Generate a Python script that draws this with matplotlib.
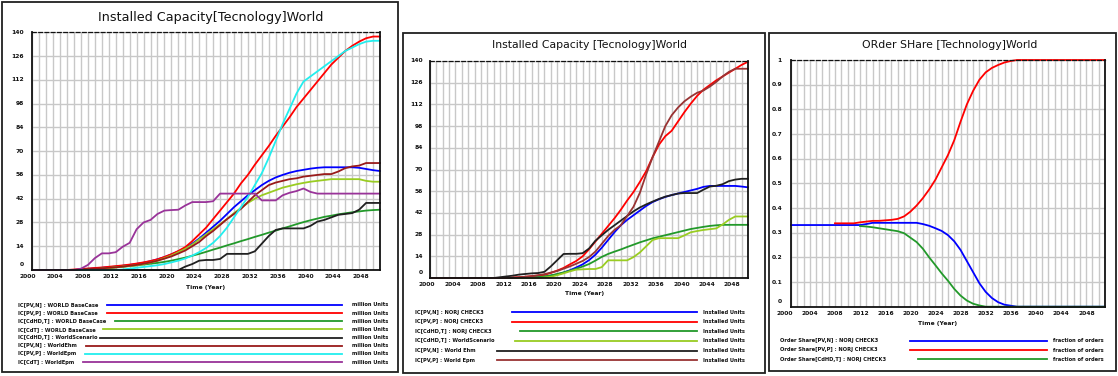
import matplotlib
matplotlib.use('Agg')
import matplotlib.pyplot as plt
import matplotlib.patches as patches
import matplotlib.transforms as mtransforms
from matplotlib.lines import Line2D
import numpy as np

W, H = 1118, 376
nan = float('nan')

# ---------------- data ----------------
years = list(range(2000, 2051))
x_ticks = list(range(2000, 2051, 4))
x_tick_labels = [str(v) for v in x_ticks]
cap_ticks = [0, 14, 28, 42, 56, 70, 84, 98, 112, 126, 140]
cap_tick_labels = [str(v) for v in cap_ticks]
share_ticks = [0, 0.1, 0.2, 0.3, 0.4, 0.5, 0.6, 0.7, 0.8, 0.9, 1.0]
share_tick_labels = ['0', '0.1', '0.2', '0.3', '0.4', '0.5', '0.6', '0.7', '0.8', '0.9', '1']

# Panel 1: Installed Capacity[Tecnology]World
p1_blue = [0]*7 + [0.3, 0.7, 1.0, 1.3, 1.7, 2.0, 2.5, 3.0, 3.6, 4.3, 5.2, 6.3, 7.6, 9.2, 11, 13, 15.5,
                   18.5, 22, 25.5, 29, 33, 37, 40.5, 44, 47, 50, 52.5, 54.5, 56, 57.3, 58.3, 59, 59.7,
                   60.2, 60.5, 60.5, 60.5, 60.5, 60.5, 60.2, 59.5, 58.8, 58.3]
p1_red = [0]*6 + [0.3, 0.6, 0.9, 1.2, 1.5, 1.9, 2.3, 2.7, 3.2, 3.8, 4.5, 5.3, 6.3, 7.7, 9.3, 11.2, 13.5,
                  17, 21, 25, 30, 35, 40, 45, 51, 56, 62, 67.5, 73, 79, 84.5, 90, 96, 101, 106, 111,
                  116, 121, 125, 129, 132, 134.5, 136.5, 137.5, 137.5]
p1_green = [0]*8 + [0.3, 0.5, 0.8, 1.1, 1.5, 1.9, 2.3, 2.7, 3.2, 3.7, 4.2, 4.8, 5.5, 6.4, 7.3, 8.4, 9.5,
                    10.7, 12, 13.2, 14.5, 15.7, 17, 18.2, 19.5, 20.7, 22, 23.2, 24.5, 25.7, 27, 28.2,
                    29.3, 30.3, 31.3, 32, 32.8, 33.4, 34, 34.5, 35, 35.3, 35.5]
p1_yellowgreen = [0]*9 + [0.4, 0.8, 1.2, 1.6, 2.0, 2.4, 2.8, 3.5, 4.4, 5.5, 7, 8.5, 10.5, 12.5, 15, 18,
                          21, 24, 27, 30, 33.5, 36.5, 39.5, 42, 44, 45.5, 47, 48.5, 49.5, 50.5, 51.3,
                          52, 52.5, 53, 53.5, 53.5, 53.5, 53.5, 53.5, 52.5, 52, 52]
p1_black = [0]*22 + [2, 3.5, 5.5, 5.9, 5.9, 6.5, 9.5, 9.5, 9.5, 9.5, 11, 15.5, 20, 23.6, 24.5, 24.5,
                     24.5, 24.5, 26, 28.5, 29.5, 31, 32.5, 33, 33.5, 35.5, 39.5, 39.5, 39.5]
p1_brown = [0]*7 + [0.2, 0.5, 0.8, 1.0, 1.3, 1.6, 2.0, 2.5, 3.0, 3.7, 4.5, 5.5, 6.7, 8, 9.7, 11.5, 14,
                    16.5, 20, 23, 26.5, 30, 33, 36, 40, 44, 47, 50, 51.5, 52.5, 53.5, 54, 55, 55.5, 56,
                    56.5, 56.5, 58, 60, 61, 61.5, 63, 63, 63]
p1_cyan = [0]*13 + [0.3, 0.8, 1.3, 1.8, 2.3, 2.8, 3.5, 4.5, 5.5, 6.8, 8.5, 10.5, 13, 16, 20, 25, 31, 37,
                    43, 50, 57, 66, 76, 86, 95, 104, 111, 114, 117, 120, 123, 126, 129, 131, 133,
                    134.5, 135, 135]
p1_purple = [0]*7 + [0.8, 3, 7, 9.8, 9.8, 10.5, 13.7, 16, 24, 28, 29.5, 33, 35, 35.3, 35.5, 38, 40, 40,
                     40, 40.5, 45, 45, 45, 45, 45, 45, 41, 41, 41, 44, 45.5, 46.5, 48, 46, 45] + [45]*9

p1_series = [
    ("IC[PV,N] : WORLD BaseCase", p1_blue, "#0000ff", 107),
    ("IC[PV,P] : WORLD BaseCase", p1_red, "#ff0000", 107),
    ("IC[CdHD,T] : WORLD BaseCase", p1_green, "#22992a", 115),
    ("IC[CdT] : WORLD BaseCase", p1_yellowgreen, "#99cc22", 103),
    ("IC[CdHD,T] : WorldScenario", p1_black, "#202020", 100),
    ("IC[PV,N] : WorldEhm", p1_brown, "#991a1a", 86),
    ("IC[PV,P] : WorldEpm", p1_cyan, "#22eeee", 85),
    ("IC[CdT] : WorldEpm", p1_purple, "#993399", 83),
]
p1_unit = "million Units"

# Panel 2: Installed Capacity [Tecnology]World
p2_blue = [0]*16 + [0.2, 0.5, 0.9, 1.5, 2.3, 3.5, 5, 6.8, 8.8, 11.5, 15, 19.5, 24.5, 29.5, 34, 37.5,
                    40.5, 43.5, 46.5, 49, 50.8, 52.3, 53.5, 54.5, 55.5, 56.5, 57.5, 58.8, 59.4, 59.4,
                    59.4, 59.4, 59.4, 59, 58.5]
p2_red = [0]*13 + [0.3, 0.5, 0.8, 1.2, 1.6, 2.0, 3.3, 4.8, 6.5, 8.8, 11, 14, 18.5, 23.5, 28.5, 33.5,
                   38.5, 44, 50, 55.5, 62, 69, 78, 86, 91.5, 95, 101, 107, 112.5, 117.5, 121.5, 124.5,
                   127.5, 130, 132.5, 135, 137.5, 139.5]
p2_green = [0]*16 + [0.3, 0.6, 1.0, 1.7, 2.6, 3.6, 4.7, 6.0, 7.4, 9.0, 11.2, 13.6, 15.5, 17, 18.4, 20,
                     21.5, 23, 24.3, 25.6, 26.6, 27.6, 28.6, 29.6, 30.6, 31.6, 32.3, 33, 33.6, 34,
                     34.3, 34.3, 34.3, 34.3, 34.3]
p2_yellowgreen = [0]*18 + [0.3, 0.8, 1.8, 3, 4.3, 5.4, 5.6, 5.8, 5.8, 7, 11.4, 11.4, 11.4, 11.4, 13.5,
                           16.5, 20.5, 24.5, 25.7, 25.7, 25.7, 25.7, 27.5, 29.5, 30.3, 31, 31.5, 32,
                           34.5, 37.5, 39.7, 39.7, 39.7]
p2_black = [0]*11 + [0.5, 1.0, 1.5, 2.2, 2.6, 3.0, 3.2, 4.0, 7.5, 11.5, 15.5, 15.6, 15.6, 16, 19, 24,
                     27.5, 31, 34, 37, 40, 43, 45.5, 47.5, 49.3, 51, 52.5, 53.5, 54.5, 54.8, 54.8,
                     54.8, 57, 59, 59.5, 60.5, 62.5, 63.5, 64, 64]
p2_brown = [0]*13 + [0.2, 0.5, 0.8, 1.2, 1.8, 2.5, 3.5, 4.5, 6, 7.5, 9.2, 11, 13.5, 17, 22, 27, 31, 34,
                     40, 46, 55, 67, 78, 88, 98, 105, 110, 114, 117, 119.5, 121, 123.5, 126.5, 130,
                     133, 135, 135, 135]

p2_series = [
    ("IC[PV,N] : NORJ CHECK3", p2_blue, "#0000ff", 512),
    ("IC[PV,P] : NORJ CHECK3", p2_red, "#ff0000", 512),
    ("IC[CdHD,T] : NORJ CHECK3", p2_green, "#22992a", 520),
    ("IC[CdHD,T] : WorldScenario", p2_yellowgreen, "#99cc22", 515),
    ("IC[PV,N] : World Ehm", p2_black, "#202020", 497),
    ("IC[PV,P] : World Epm", p2_brown, "#993333", 497),
]
p2_unit = "Installed Units"

# Panel 3: ORder SHare [Technology]World
p3_blue = [0.331]*12 + [0.335, 0.34, 0.34, 0.34, 0.34, 0.34, 0.34, 0.34, 0.34, 0.335, 0.328, 0.318,
                        0.307, 0.29, 0.265, 0.23, 0.185, 0.14, 0.095, 0.06, 0.035, 0.018, 0.008,
                        0.004] + [0]*15
p3_red = [nan]*7 + [0.338, 0.338, 0.338, 0.338, 0.342, 0.345, 0.348, 0.348, 0.35, 0.352, 0.356, 0.366,
                    0.385, 0.41, 0.44, 0.475, 0.515, 0.565, 0.615, 0.675, 0.75, 0.82, 0.875, 0.92,
                    0.95, 0.968, 0.98, 0.99, 0.996] + [1.0]*15
p3_green = [nan]*11 + [0.327, 0.325, 0.322, 0.318, 0.314, 0.31, 0.306, 0.298, 0.28, 0.262, 0.235,
                       0.2, 0.168, 0.135, 0.105, 0.072, 0.045, 0.025, 0.012, 0.005] + [0]*20

p3_series = [
    ("Order Share[PV,N] : NORJ CHECK3", p3_blue, "#0000ff", 910),
    ("Order Share[PV,P] : NORJ CHECK3", p3_red, "#ff0000", 910),
    ("Order Share[CdHD,T] : NORJ CHECK3", p3_green, "#22992a", 918),
]
p3_unit = "fraction of orders"

# ---------------- drawing ----------------
fig = plt.figure(figsize=(W/100, H/100), dpi=100)
fig.patch.set_facecolor('white')


def fx(x):
    return x / W


def fy(y):
    return 1 - y / H


def box(x0, y0, x1, y1):
    fig.add_artist(patches.Rectangle((fx(x0), fy(y1)), fx(x1) - fx(x0), fy(y0) - fy(y1),
                                     transform=fig.transFigure, fill=False,
                                     edgecolor='#202020', lw=1.3))


def make_axes(px0, py0, px1, py1, ymax, yticks, ylabels, ylab_px, xlab_dy_px, xlab_dx_px):
    ax = fig.add_axes([fx(px0), fy(py1), fx(px1) - fx(px0), fy(py0) - fy(py1)])
    ax.set_xlim(2000, 2050)
    ax.set_ylim(0, ymax)
    ax.set_xticks(years)
    ax.set_yticks(yticks)
    ax.set_xticklabels([])
    ax.set_yticklabels([])
    ax.tick_params(length=0)
    ax.grid(True, color='#c8c8c8', lw=1.0)
    ax.set_axisbelow(True)
    for s in ['left', 'bottom', 'right']:
        ax.spines[s].set_color('#111111')
        ax.spines[s].set_linewidth(1.3)
    ax.spines['top'].set_linestyle((0, (3, 2)))
    ax.spines['top'].set_color('#111111')
    ax.spines['top'].set_linewidth(0.9)
    wpx = px1 - px0
    hpx = py1 - py0
    ytr = mtransforms.blended_transform_factory(ax.transAxes, ax.transData)
    for v, lab in zip(yticks, ylabels):
        tr = ytr
        if v == 0:
            tr = ytr + mtransforms.ScaledTranslation(0, 5.5/100, fig.dpi_scale_trans)
        ax.text((ylab_px - px0) / wpx, v, lab, transform=tr, ha='right', va='center',
                fontsize=4.3, fontweight='bold', color='#111111')
    xtr = mtransforms.blended_transform_factory(ax.transData, ax.transAxes) + \
        mtransforms.ScaledTranslation(xlab_dx_px/100, 0, fig.dpi_scale_trans)
    for v, lab in zip(x_ticks, x_tick_labels):
        ax.text(v, -xlab_dy_px / hpx, lab, transform=xtr, ha='center', va='center',
                fontsize=4.3, fontweight='bold', color='#111111')
    return ax


def legend(series, unit, y0, dy, xtext, xend, xunit):
    for i, (lab, _, col, xs) in enumerate(series):
        y = y0 + i * dy
        fig.text(fx(xtext), fy(y), lab, fontsize=3.7, fontweight='bold', ha='left', va='center',
                 color='#111111')
        fig.add_artist(Line2D([fx(xs), fx(xend)], [fy(y), fy(y)], transform=fig.transFigure,
                              color=col, lw=1.3))
        fig.text(fx(xunit), fy(y), unit, fontsize=3.7, fontweight='bold', ha='left', va='center',
                 color='#111111')


# frames
box(2, 2, 398, 372)
box(403, 33, 765, 373)
box(769, 33, 1116, 371)

# panel 1
ax1 = make_axes(32.3, 32.3, 380, 270, 140, cap_ticks, cap_tick_labels, 24, 6, -5)
for lab, vals, col, _ in p1_series:
    ax1.plot(years, vals, color=col, lw=1.3, clip_on=False)
fig.text(fx(211), fy(17), "Installed Capacity[Tecnology]World", fontsize=9.2, ha='center',
         va='center', color='#111111')
fig.text(fx(206), fy(287), "Time (Year)", fontsize=4.3, fontweight='bold', ha='center',
         va='center', color='#111111')
legend(p1_series, p1_unit, 305, 8.15, 18, 342, 352)

# panel 2
ax2 = make_axes(430, 61, 748, 278, 140, cap_ticks, cap_tick_labels, 423, 7, -3)
for lab, vals, col, _ in p2_series:
    ax2.plot(years, vals, color=col, lw=1.3, clip_on=False)
fig.text(fx(590), fy(45), "Installed Capacity [Tecnology]World", fontsize=7.8, ha='center',
         va='center', color='#111111')
fig.text(fx(585), fy(294), "Time (Year)", fontsize=4.3, fontweight='bold', ha='center',
         va='center', color='#111111')
legend(p2_series, p2_unit, 312.3, 9.55, 415, 697, 703)

# panel 3
ax3 = make_axes(791, 60, 1105, 306.7, 1.0, share_ticks, share_tick_labels, 782, 6.6, -6)
for lab, vals, col, _ in p3_series:
    ax3.plot(years, vals, color=col, lw=1.3, clip_on=False)
fig.text(fx(950), fy(45), "ORder SHare [Technology]World", fontsize=7.8, ha='center',
         va='center', color='#111111')
fig.text(fx(938), fy(323), "Time (Year)", fontsize=4.3, fontweight='bold', ha='center',
         va='center', color='#111111')
legend(p3_series, p3_unit, 340.7, 9.3, 780, 1047, 1053)

fig.savefig('out.png', dpi=100, facecolor='white')
